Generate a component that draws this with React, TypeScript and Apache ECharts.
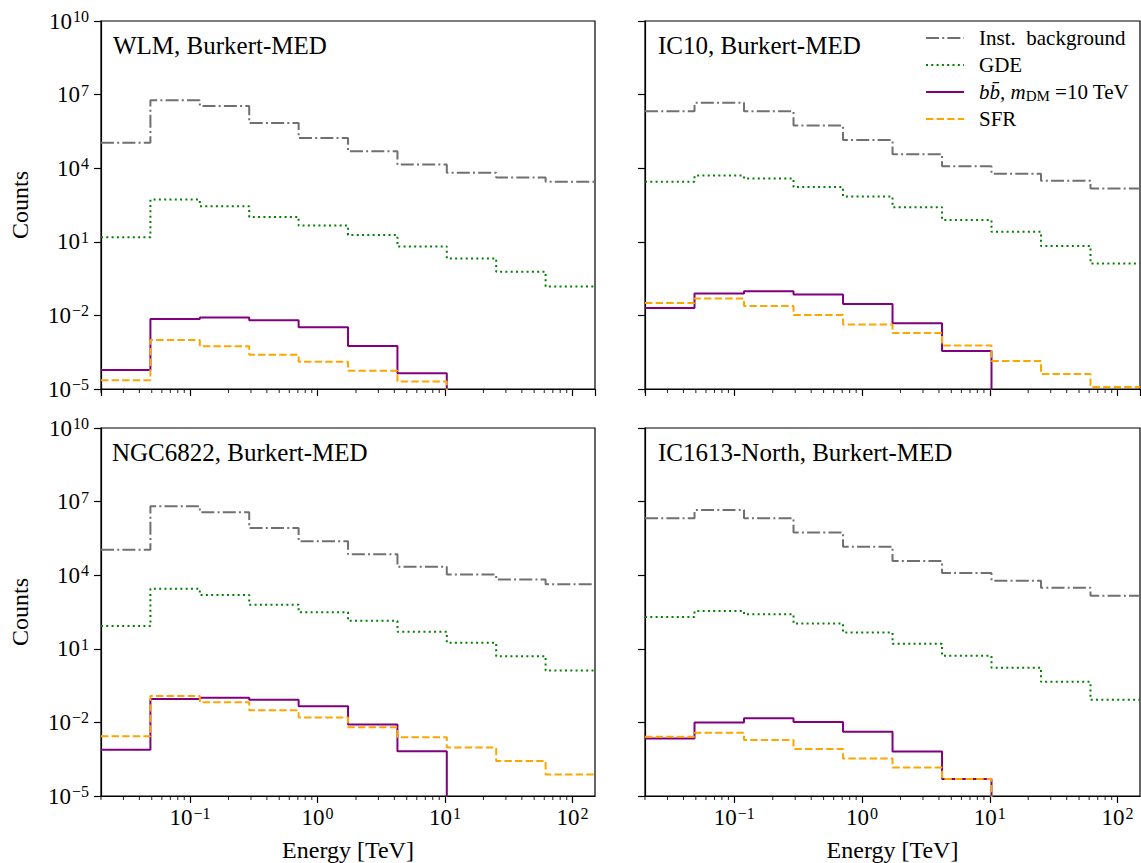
import React, { useEffect, useRef } from "react";
import * as echarts from "echarts";

// Bin edges (TeV), log-spaced from 0.02 to 150
const EDGES = [0.02, 0.04882, 0.11917, 0.29088, 0.71003, 1.7331, 4.2305, 10.317, 25.183, 61.47, 150];

const PANEL_TITLES = ["WLM, Burkert-MED", "IC10, Burkert-MED", "NGC6822, Burkert-MED", "IC1613-North, Burkert-MED"];
const SERIES_NAMES = ["Inst. background", "GDE", "bb\u0304, mDM =10 TeV", "SFR"];

// WLM
const WLM_BKG = [1.1e5, 5.9e6, 3.4e6, 6.9e5, 1.7e5, 4.9e4, 1.4e4, 6.5e3, 4.2e3, 2.8e3];
const WLM_GDE = [15.5, 525, 283, 103, 46, 19, 6.5, 2.1, 0.6, 0.15];
const WLM_DM = [6e-5, 7.1e-3, 8.3e-3, 6.3e-3, 3.3e-3, 5.7e-4, 4.4e-5, 0, 0, 0];
const WLM_SFR = [2.3e-5, 1.0e-3, 5.5e-4, 2.5e-4, 1.3e-4, 5.5e-5, 2.0e-5, 0, 0, 0];

// IC10
const IC10_BKG = [2.1e6, 4.6e6, 2.1e6, 5.5e5, 1.4e5, 3.7e4, 1.2e4, 6.0e3, 3.1e3, 1.5e3];
const IC10_GDE = [2.8e3, 5.0e3, 3.8e3, 1.7e3, 710, 256, 78, 25.6, 6.7, 1.3];
const IC10_DM = [0.02, 0.078, 0.097, 0.071, 0.029, 4.8e-3, 3.5e-4, 0, 0, 0];
const IC10_SFR = [0.032, 0.049, 0.024, 0.0103, 4.3e-3, 1.9e-3, 6.0e-4, 1.4e-4, 4.1e-5, 1.2e-5];

// NGC6822
const NGC6822_BKG = [1.1e5, 6.5e6, 3.7e6, 8.3e5, 2.4e5, 7.1e4, 2.2e4, 1.07e4, 6.7e3, 4.3e3];
const NGC6822_GDE = [85, 2.8e3, 1.55e3, 630, 310, 138, 49, 17.5, 5.0, 1.3];
const NGC6822_DM = [7.6e-4, 0.089, 0.1, 0.083, 0.045, 8.3e-3, 6.6e-4, 0, 0, 0];
const NGC6822_SFR = [2.7e-3, 0.12, 0.066, 0.031, 0.016, 6.4e-3, 2.5e-3, 9.4e-4, 2.7e-4, 7.6e-5];

// IC1613-North
const IC1613_BKG = [2.1e6, 4.5e6, 2.1e6, 5.5e5, 1.45e5, 3.8e4, 1.24e4, 6.0e3, 3.1e3, 1.45e3];
const IC1613_GDE = [200, 350, 257, 107, 46, 16, 5.2, 1.7, 0.45, 0.083];
const IC1613_DM = [2.2e-3, 9.8e-3, 0.0146, 0.0103, 4.2e-3, 6.5e-4, 4.9e-5, 0, 0, 0];
const IC1613_SFR = [2.6e-3, 3.8e-3, 1.9e-3, 8.3e-4, 3.4e-4, 1.45e-4, 4.9e-5, 0, 0, 0];

const X_MIN = 0.02;
const X_MAX = 150;
const Y_MIN = 1e-5;
const Y_MAX = 1e10;
const X_MINOR_TICKS = [
  0.02, 0.03, 0.04, 0.05, 0.06, 0.07, 0.08, 0.09,
  0.2, 0.3, 0.4, 0.5, 0.6, 0.7, 0.8, 0.9,
  2, 3, 4, 5, 6, 7, 8, 9,
  20, 30, 40, 50, 60, 70, 80, 90,
];

const PANEL_DATA = [
  [WLM_BKG, WLM_GDE, WLM_DM, WLM_SFR],
  [IC10_BKG, IC10_GDE, IC10_DM, IC10_SFR],
  [NGC6822_BKG, NGC6822_GDE, NGC6822_DM, NGC6822_SFR],
  [IC1613_BKG, IC1613_GDE, IC1613_DM, IC1613_SFR],
];

const FONT = '"Liberation Serif", "DejaVu Serif", serif';
const COLORS = ["#707070", "#008000", "#800080", "#ffa500"];
const DASHES: any[] = [[13, 3.2, 2, 3.2], [2, 3.3], "solid", [7.4, 3.2]];
const FLOOR = 1e-12; // zero counts fall below the axis and are clipped

const GRIDS = [
  { left: 101, top: 21, width: 494, height: 368 },
  { left: 645, top: 21, width: 495, height: 368 },
  { left: 101, top: 428, width: 494, height: 368 },
  { left: 645, top: 428, width: 495, height: 368 },
];

function stepData(values: number[]) {
  const pts: [number, number][] = values.map((v, i) => [EDGES[i], v > 0 ? v : FLOOR]);
  const last = values[values.length - 1];
  pts.push([EDGES[EDGES.length - 1], last > 0 ? last : FLOOR]);
  return pts;
}

function powLabel(v: number) {
  const e = Math.round(Math.log10(v));
  const s = e < 0 ? "\u2212" + Math.abs(e) : String(e);
  return "{b|10}{s|" + s + "}";
}

const tickRich = {
  b: { fontFamily: FONT, fontSize: 23, lineHeight: 25, color: "#000" },
  s: { fontFamily: FONT, fontSize: 16, lineHeight: 16, verticalAlign: "top", color: "#000", padding: [0, 0, 0, 1] },
};

export default function App() {
  const ref = useRef<HTMLDivElement>(null);
  useEffect(() => {
    if (!ref.current) return;
    const chart = echarts.init(ref.current, null, { renderer: "svg" });

    const xAxis = GRIDS.map((_, i) => ({
      type: "log",
      gridIndex: i,
      min: X_MIN,
      max: X_MAX,
      logBase: 10,
      splitLine: { show: false },
      axisLine: { show: true, onZero: false, lineStyle: { color: "#000", width: 1.2 } },
      axisTick: { show: true, inside: false, length: 7, lineStyle: { color: "#000", width: 1.2 } },
      axisLabel: {
        show: i >= 2,
        showMinLabel: false,
        showMaxLabel: false,
        margin: 9,
        formatter: powLabel,
        rich: tickRich,
      },
      name: i >= 2 ? "Energy [TeV]" : "",
      nameLocation: "middle",
      nameGap: 42,
      nameTextStyle: { fontFamily: FONT, fontSize: 24, color: "#000" },
    }));

    const yAxis = GRIDS.map((_, i) => ({
      type: "log",
      gridIndex: i,
      min: Y_MIN,
      max: Y_MAX,
      logBase: 10,
      interval: 3,
      splitLine: { show: false },
      axisLine: { show: true, onZero: false, lineStyle: { color: "#000", width: 1.2 } },
      axisTick: { show: true, inside: false, length: 7, lineStyle: { color: "#000", width: 1.2 } },
      axisLabel: {
        show: i % 2 === 0,
        margin: 12,
        formatter: powLabel,
        rich: tickRich,
      },
      name: i % 2 === 0 ? "Counts" : "",
      nameLocation: "middle",
      nameGap: 69,
      nameTextStyle: { fontFamily: FONT, fontSize: 24, color: "#000" },
    }));

    const series: any[] = [];
    PANEL_DATA.forEach((panel, gi) => {
      panel.forEach((vals, si) => {
        series.push({
          type: "line",
          name: SERIES_NAMES[si],
          xAxisIndex: gi,
          yAxisIndex: gi,
          data: stepData(vals),
          step: "end",
          symbol: "none",
          showSymbol: false,
          clip: true,
          silent: true,
          color: COLORS[si],
          itemStyle: { color: COLORS[si], opacity: 0 },
          lineStyle: { color: COLORS[si], width: 2, type: DASHES[si], cap: "butt" },
          z: 2 + si,
        });
      });
      series.push({
        type: "scatter",
        name: "minor",
        xAxisIndex: gi,
        yAxisIndex: gi,
        data: X_MINOR_TICKS.map((x) => [x, Y_MIN]),
        symbol: "rect",
        symbolSize: [1.1, 4],
        symbolOffset: [0, 2],
        itemStyle: { color: "#000" },
        clip: false,
        silent: true,
        z: 10,
      });
    });

    const titlePos = [
      [113, 45],
      [658, 45],
      [112, 452],
      [658, 452],
    ];

    chart.setOption({
      animation: false,
      backgroundColor: "#fff",
      grid: GRIDS.map((g) => ({ ...g, show: true, borderColor: "#000", borderWidth: 1.2, containLabel: false })),
      xAxis,
      yAxis,
      series,
      legend: {
        show: true,
        data: SERIES_NAMES,
        orient: "vertical",
        left: 920,
        top: 22,
        itemWidth: 38,
        itemHeight: 14,
        itemGap: 5,
        selectedMode: false,
        itemStyle: { opacity: 0 },
        formatter: (name: string) => {
          if (name.startsWith("bb")) {
            return "{it|bb\u0304}{r|, }{it|m}{sub|DM}{r| =10 TeV}";
          }
          if (name.startsWith("Inst")) {
            return "{r|Inst.\u2002background}";
          }
          return "{r|" + name + "}";
        },
        textStyle: {
          fontFamily: FONT,
          fontSize: 21,
          lineHeight: 22,
          color: "#000",
          padding: [0, 0, 0, 10],
          rich: {
            r: { fontFamily: FONT, fontSize: 21, lineHeight: 22, color: "#000" },
            it: { fontFamily: FONT, fontSize: 21, lineHeight: 22, fontStyle: "italic", color: "#000" },
            sub: { fontFamily: FONT, fontSize: 15, lineHeight: 15, verticalAlign: "bottom", color: "#000" },
          },
        },
      },
      graphic: PANEL_TITLES.map((t, i) => ({
        type: "text",
        x: titlePos[i][0],
        y: titlePos[i][1],
        silent: true,
        z: 20,
        style: {
          text: t,
          fontFamily: FONT,
          fontSize: 25,
          fill: "#000",
          verticalAlign: "middle",
          align: "left",
        },
      })),
    });

    return () => chart.dispose();
  }, []);

  return (
    <div
      ref={ref}
      style={{ position: "fixed", left: 0, top: 0, width: 1141, height: 863, background: "#fff" }}
    />
  );
}
